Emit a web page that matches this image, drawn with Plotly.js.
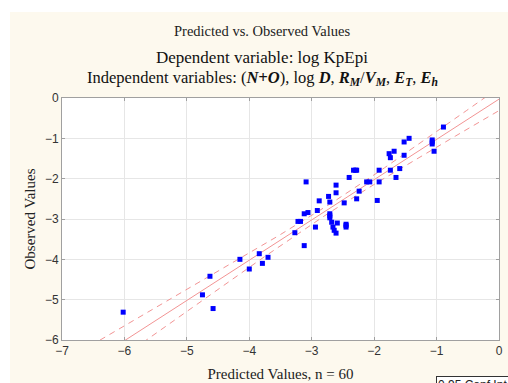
<!DOCTYPE html>
<html>
<head>
<meta charset="utf-8">
<script src="https://cdn.plot.ly/plotly-3.0.1.min.js"></script>
<style>
html,body{margin:0;padding:0;background:#ffffff;width:508px;height:383px;overflow:hidden;}
#chart{position:absolute;left:10px;top:12px;width:498px;height:371px;}
</style>
</head>
<body>
<div id="chart"></div>
<script>
// Predicted values (x)
var predicted = [-0.89,-1.07,-1.07,-1.04,-1.44,-1.52,-1.52,-1.68,-1.76,-1.74,
  -1.59,-1.74,-1.65,-1.92,-1.92,-1.95,-2.12,-2.07,-2.33,-2.28,
  -2.40,-2.24,-2.28,-2.48,-2.61,-2.61,-2.73,-2.71,-2.88,-2.91,
  -3.09,-3.12,-3.06,-3.22,-3.18,-3.27,-2.94,-2.71,-2.71,-2.71,
  -2.68,-2.59,-2.66,-2.64,-2.61,-2.45,-2.45,-3.12,-3.84,-4.15,
  -3.70,-3.79,-4.00,-4.63,-4.75,-4.58,-6.02,-1.07,-2.30,-2.45];
var observed = [-0.72,-1.04,-1.14,-1.32,-1.00,-1.09,-1.42,-1.32,-1.38,-1.48,
  -1.75,-1.79,-1.97,-1.79,-2.08,-2.54,-2.08,-2.08,-1.79,-1.79,
  -1.97,-2.31,-2.50,-2.60,-2.16,-2.35,-2.44,-2.58,-2.55,-2.79,
  -2.08,-2.87,-2.84,-3.06,-3.06,-3.34,-3.20,-2.87,-2.92,-2.97,
  -3.08,-3.10,-3.20,-3.28,-3.35,-3.13,-3.20,-3.66,-3.86,-4.00,
  -3.95,-4.10,-4.24,-4.42,-4.88,-5.22,-5.31,-1.09,-1.79,-3.16];
var xTicks = [-7,-6,-5,-4,-3,-2,-1,0];
var yTicks = [-6,-5,-4,-3,-2,-1,0];
var confLevel = 0.95;
var tCrit = 2.0017; // t(0.975, df = 58)

// Least-squares fit of observed on predicted and 95% confidence band for the mean
var n = predicted.length, mx = 0, my = 0;
for (var i = 0; i < n; i++) { mx += predicted[i]; my += observed[i]; }
mx /= n; my /= n;
var sxx = 0, sxy = 0;
for (i = 0; i < n; i++) { sxx += (predicted[i]-mx)*(predicted[i]-mx); sxy += (predicted[i]-mx)*(observed[i]-my); }
var slope = sxy / sxx, icpt = my - slope * mx, sse = 0;
for (i = 0; i < n; i++) { var r = observed[i] - (icpt + slope*predicted[i]); sse += r*r; }
var s = Math.sqrt(sse / (n - 2));
var fx = [], fy = [], up = [], lo = [];
for (var k = 0; k <= 80; k++) {
  var x = xTicks[0] + k * (xTicks[xTicks.length-1] - xTicks[0]) / 80;
  var y = icpt + slope * x;
  var h = tCrit * s * Math.sqrt(1/n + (x-mx)*(x-mx)/sxx);
  fx.push(x); fy.push(y); up.push(y + h); lo.push(y - h);
}

var lineCol = '#F29494';
var traces = [
  {x: fx, y: up, mode: 'lines', line: {color: lineCol, width: 1, dash: '6px,5px'}, hoverinfo: 'skip'},
  {x: fx, y: lo, mode: 'lines', line: {color: lineCol, width: 1, dash: '6px,5px'}, hoverinfo: 'skip'},
  {x: fx, y: fy, mode: 'lines', line: {color: lineCol, width: 1}, hoverinfo: 'skip'},
  {x: predicted, y: observed, mode: 'markers', marker: {symbol: 'square', size: 5, color: '#0000FF'}}
];

var serif = 'Liberation Serif, serif';
var sans = 'Liberation Sans, Arial, sans-serif';
var axisCommon = {
  showgrid: true, gridcolor: '#E6E6E6', gridwidth: 1, zeroline: false,
  showline: true, linecolor: '#A0A0A0', linewidth: 1, mirror: 'ticks',
  ticks: 'inside', ticklen: 3, tickcolor: '#A0A0A0',
  tickfont: {family: sans, size: 12, color: '#333333'}, dtick: 1
};
var layout = {
  width: 498, height: 371,
  margin: {l: 52, r: 9, t: 86, b: 43},
  paper_bgcolor: '#FDF9EE', plot_bgcolor: '#FFFFFF',
  showlegend: false,
  xaxis: Object.assign({}, axisCommon, {
    range: [-7, 0], tickvals: xTicks,
    title: {text: 'Predicted Values, n = 60', font: {family: serif, size: 15, color: '#222'}, standoff: 11}
  }),
  yaxis: Object.assign({}, axisCommon, {
    range: [-6, 0], tickvals: yTicks,
    title: {text: 'Observed Values', font: {family: serif, size: 15, color: '#222'}, standoff: 5}
  }),
  annotations: [
    {xref: 'paper', yref: 'paper', x: 0.4577, y: 1.277, yanchor: 'middle', showarrow: false,
     text: 'Predicted vs. Observed Values', font: {family: serif, size: 14.5, color: '#222'}},
    {xref: 'paper', yref: 'paper', x: 0.4577, y: 1.169, yanchor: 'middle', showarrow: false,
     text: 'Dependent variable: log KpEpi', font: {family: serif, size: 17, color: '#111'}},
    {xref: 'paper', yref: 'paper', x: 0.4577, y: 1.083, yanchor: 'middle', showarrow: false,
     text: 'Independent variables: (<b><i>N+O</i></b>), log <b><i>D</i></b>, <b><i>R<sub>M</sub></i></b>/<b><i>V<sub>M</sub></i></b>, <b><i>E<sub>T</sub></i></b>, <b><i>E<sub>h</sub></i></b>',
     font: {family: serif, size: 16.5, color: '#111'}},
    {xref: 'paper', yref: 'paper', x: 0.856, y: -0.149, xanchor: 'left', yanchor: 'top', showarrow: false,
     text: confLevel.toFixed(2) + ' Conf.Int.', font: {family: sans, size: 12, color: '#222'},
     bgcolor: '#FFFFFF', bordercolor: '#333333', borderwidth: 1, borderpad: 1}
  ]
};
Plotly.newPlot('chart', traces, layout, {displayModeBar: false, staticPlot: true});
</script>
</body>
</html>
